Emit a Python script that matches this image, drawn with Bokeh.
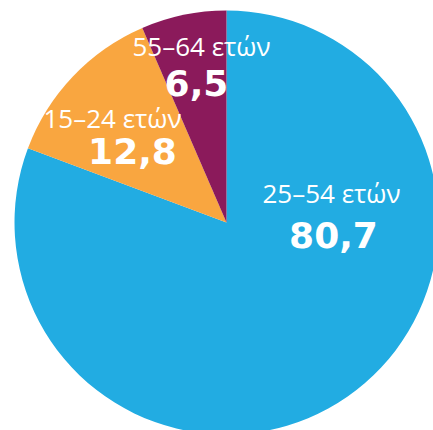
import math
from bokeh.plotting import figure
from bokeh.models import Range1d, ColumnDataSource
from bokeh.core.properties import value
from bokeh.embed import file_html
from bokeh.resources import INLINE

# ---- data ----
categories = ["25–54 ετών", "15–24 ετών", "55–64 ετών"]
shares = [80.7, 12.8, 6.5]
colors = ["#22ACE2", "#F9A640", "#8B1A5B"]

# ---- layout (pixels, figure space) ----
W, H = 433, 430
cx, cy, R = 226, 208, 212
# label anchor offsets from the pie centre
label_dx = [105, -114, -25]
num_dx = [107, -94, -30]
label_dy = [30, 105, 177]
num_dy = [-12, 72, 140]

total = sum(shares)
starts, ends = [], []
a = math.pi / 2
for v in shares:
    starts.append(a)
    a -= v / total * 2 * math.pi
    ends.append(a)

src = ColumnDataSource(dict(start=starts, end=ends, color=colors,
                            x=[cx] * 3, y=[cy] * 3))

p = figure(width=W, height=H, output_backend="svg", toolbar_location=None,
           x_range=Range1d(0, W), y_range=Range1d(0, H), min_border=0)
p.axis.visible = False
p.grid.visible = False
p.outline_line_color = None
p.background_fill_color = "white"

p.wedge(x="x", y="y", radius=R, radius_units="screen",
        start_angle="end", end_angle="start", direction="anticlock",
        fill_color="color", line_color=None, source=src)

lab_src = ColumnDataSource(dict(
    x=[cx + d for d in label_dx], y=[cy + d for d in label_dy], t=categories))
num_src = ColumnDataSource(dict(
    x=[cx + d for d in num_dx], y=[cy + d for d in num_dy],
    t=[f"{v:.1f}".replace(".", ",") for v in shares]))

p.text(x="x", y="y", text="t", source=lab_src, text_color="white",
       text_font=value("Open Sans"), text_font_size="26px",
       text_align="center", text_baseline="alphabetic")
p.text(x="x", y="y", text="t", source=num_src, text_color="white",
       text_font=value("DejaVu Sans"), text_font_style="bold",
       text_font_size="36px", text_align="center", text_baseline="alphabetic")

open("out.html", "w").write(file_html(p, INLINE))
